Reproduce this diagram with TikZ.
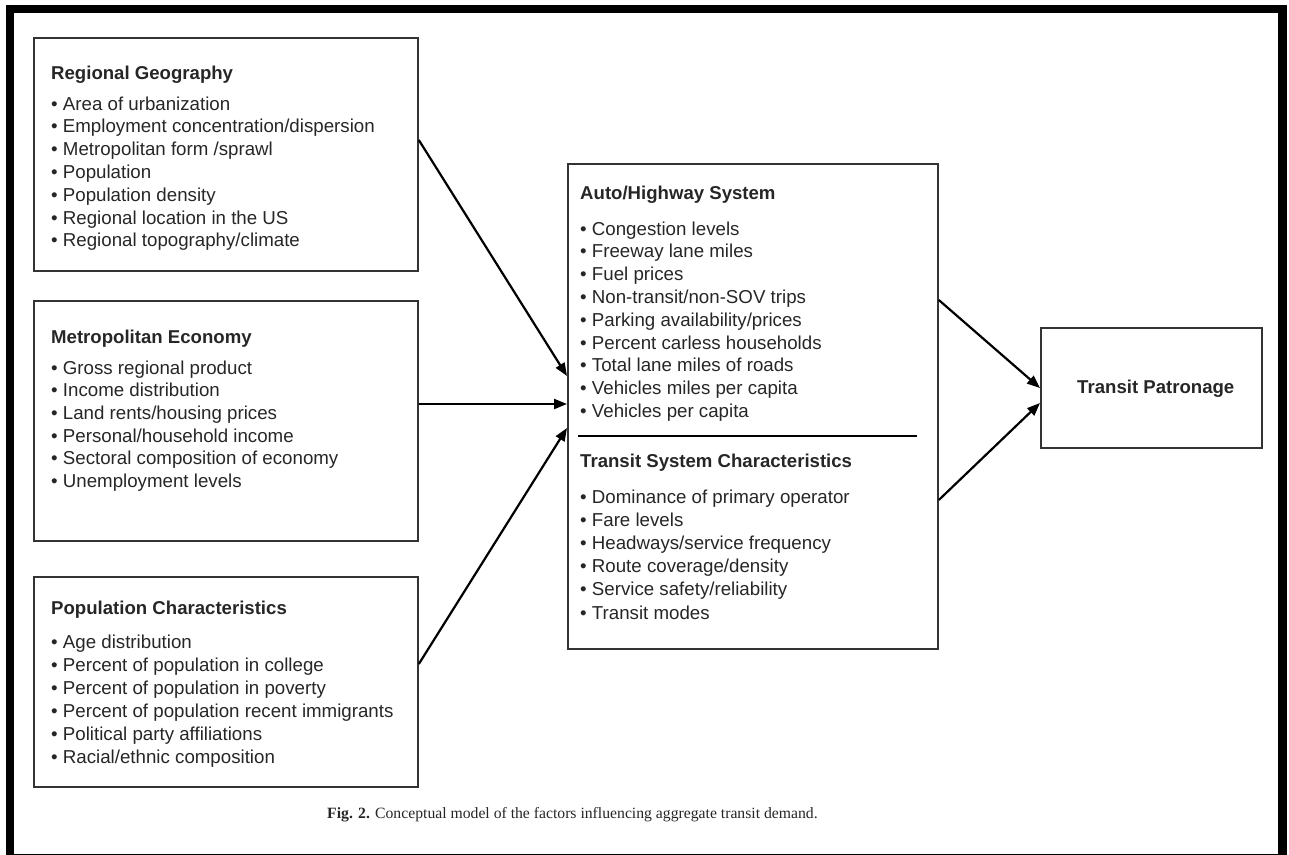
\documentclass[tikz,border=0pt]{standalone}
\usepackage{fontspec}
\setmainfont{Liberation Sans}
\newfontfamily\capfont{Liberation Serif}
\usetikzlibrary{arrows.meta,calc}
\definecolor{ink}{HTML}{262626}
\definecolor{boxline}{HTML}{333333}
\tikzset{
  box/.style={draw=boxline, line width=1.8pt, anchor=north west, inner sep=0pt},
  head/.style={anchor=base west, inner sep=0pt, text=ink, font=\fontsize{18.6}{22}\selectfont\bfseries},
  item/.style={anchor=base west, inner sep=0pt, text=ink, font=\fontsize{18.7}{22}\selectfont},
  arr/.style={draw=black, line width=2.2pt, -{Triangle[length=13pt,width=10pt]}},
}
\begin{document}
\begin{tikzpicture}[x=1pt,y=-1pt]
\useasboundingbox (0,0) rectangle (1289,854);
\clip (0,0) rectangle (1289,854);
% outer frame
\draw[line width=8.5pt, black] (10,9) rectangle (1282.5,858);
% boxes
\node[box, minimum width=384pt, minimum height=233pt] (rg) at (33,37) {};
\node[box, minimum width=384pt, minimum height=240pt] (me) at (33,300) {};
\node[box, minimum width=384pt, minimum height=210pt] (pc) at (33,576) {};
\node[box, minimum width=370pt, minimum height=485pt] (mid) at (567,163) {};
\node[box, minimum width=221pt, minimum height=120pt] (tp) at (1040,327) {};
% Regional Geography
\node[head] (rgh) at (51,79) {Regional Geography};
\foreach \t [count=\i] in {Area of urbanization, Employment concentration/dispersion, Metropolitan form /sprawl, Population, Population density, Regional location in the US, Regional topography/climate}
  \node[item] (rg\i) at (51,{110+22.8*(\i-1)}) {• \t};
% Metropolitan Economy
\node[head] (meh) at (51,343) {Metropolitan Economy};
\foreach \t [count=\i] in {Gross regional product, Income distribution, Land rents/housing prices, Personal/household income, Sectoral composition of economy, Unemployment levels}
  \node[item] (me\i) at (51,{374+22.7*(\i-1)}) {• \t};
% Population Characteristics
\node[head] (pch) at (51,614) {Population Characteristics};
\foreach \t [count=\i] in {Age distribution, Percent of population in college, Percent of population in poverty, Percent of population recent immigrants, Political party affiliations, Racial/ethnic composition}
  \node[item] (pc\i) at (51,{648+23*(\i-1)}) {• \t};
% Auto/Highway System
\node[head] (ahh) at (580,199) {Auto/Highway System};
\foreach \t [count=\i] in {Congestion levels, Freeway lane miles, Fuel prices, Non-transit/non-SOV trips, Parking availability/prices, Percent carless households, Total lane miles of roads, Vehicles miles per capita, Vehicles per capita}
  \node[item] (ah\i) at (580,{235+22.8*(\i-1)}) {• \t};
% divider
\coordinate (dl) at (578,436);
\coordinate (dr) at (917,436);
\draw[line width=2.2pt, black] (dl) -- (dr);
% Transit System Characteristics
\node[head] (tsh) at (580,467) {Transit System Characteristics};
\foreach \t [count=\i] in {Dominance of primary operator, Fare levels, Headways/service frequency, Route coverage/density, Service safety/reliability, Transit modes}
  \node[item] (ts\i) at (580,{503+23.2*(\i-1)}) {• \t};
% Transit Patronage
\node[head] (tpt) at (1077,393) {Transit Patronage};
% arrows
\draw[arr] ($(rg.north east)+(0,103)$) -- ($(mid.north west)+(0,213)$);
\draw[arr] ($(me.north east)+(0,104)$) -- ($(mid.north west)+(0,241)$);
\draw[arr] ($(pc.north east)+(0,88)$) -- ($(mid.north west)+(0,265)$);
\draw[arr] ($(mid.north east)+(0,137)$) -- ($(tp.north west)+(0,61)$);
\draw[arr] ($(mid.north east)+(0,337)$) -- ($(tp.north west)+(0,76)$);
% caption
\node[anchor=base west, inner sep=0pt, text=ink, font=\capfont\fontsize{15.7}{18}\selectfont] (cap) at (327,818) {\textbf{Fig. 2.} Conceptual model of the factors influencing aggregate transit demand.};
\end{tikzpicture}
\end{document}
